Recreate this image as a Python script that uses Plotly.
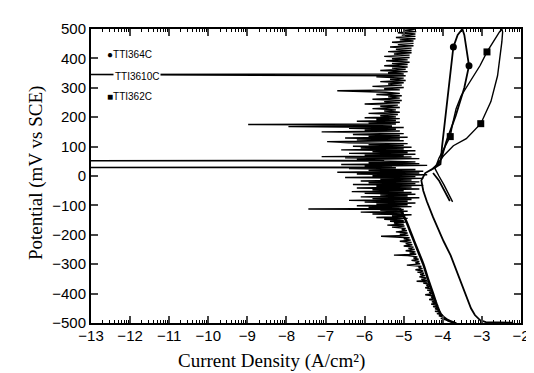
import numpy as np
import plotly.graph_objects as go

# ---------------- data ----------------
# TTI3610C : noisy polarization curve (potential mV, log current density)
noisy_E = [-500,-496,-492,-488,-484,-480,-476,-472,-468,-464,-460,-456,-452,-448,-444,-440,-436,-432,-428,-424,
           -420,-416,-412,-408,-404,-400,-396,-392,-388,-384,-380,-376,-372,-368,-364,-360,-358,-355,-351,-347,
           -343,-339,-335,-331,-327,-323,-319,-315,-311,-307,-303,-299,-295,-291,-287,-283,-279,-275,-271,-269,
           -266,-262,-258,-254,-250,-246,-242,-238,-234,-230,-226,-222,-218,-214,-210,-205,-202,-198,-194,-190,
           -186,-182,-178,-174,-170,-167,-164,-160,-157,-154,-152,
           -150,-147,-144,-141,-138,-135,-132,-129,-126,-123,-120,-117,-114,-112,-110,-107,-104,-101,-98,-95,
           -92,-89,-86,-83,-80,-77,-74,-71,-68,-65,-62,-59,-56,-53,-50,-47,-44,-41,-38,-35,
           -32,-29,-26,-23,-20,-17,-14,-11,-8,-5,-2,1,4,7,10,13,16,19,22,25,
           28,29,30,33,36,39,42,45,48,51,52,53,56,59,62,65,66,68,71,74,
           77,80,83,86,89,92,95,98,101,104,107,110,113,117,120,123,126,129,132,135,
           138,141,144,147,150,153,156,159,162,165,168,170,173,175,177,180,183,186,189,192,
           195,198,201,205,209,213,217,221,225,229,233,237,241,245,249,253,257,261,265,269,
           273,277,281,285,290,293,297,301,305,309,313,317,321,325,329,333,337,341,345,347,
           351,355,359,363,367,371,375,379,383,387,392,395,399,403,407,411,415,419,423,427,
           431,435,439,443,447,451,455,459,463,467,471,475,479,483,487,491,495,500]
noisy_logi = [-3.65,-3.8,-3.88,-3.95,-4.05,-3.98,-4.1,-4.02,-4.15,-4.05,-4.2,-4.08,-4.2,-4.1,-4.25,-4.12,-4.3,-4.15,-4.28,-4.17,
              -4.35,-4.2,-4.3,-4.22,-4.45,-4.25,-4.35,-4.27,-4.4,-4.3,-4.45,-4.32,-4.42,-4.35,-4.5,-4.38,-4.67,-4.4,-4.55,-4.42,
              -4.6,-4.45,-4.58,-4.48,-4.65,-4.5,-4.7,-4.52,-4.62,-4.55,-4.92,-4.58,-4.7,-4.6,-4.8,-4.62,-4.75,-4.65,-4.9,-5.25,
              -4.68,-4.85,-4.7,-4.95,-4.72,-4.88,-4.75,-5.0,-4.78,-4.95,-4.8,-5.1,-4.82,-5.0,-4.85,-5.58,-4.88,-5.1,-4.9,-5.2,
              -4.92,-5.05,-4.95,-5.3,-4.98,-5.42,-5.0,-5.25,-4.95,-5.35,-5.0,
              -5.1,-5.5,-4.9,-5.7,-5.0,-5.3,-4.8,-5.8,-5.0,-6.1,-4.9,-5.6,-5.0,-7.44,-5.1,-5.9,-4.8,-6.2,-4.9,-5.7,
              -4.7,-6.0,-4.9,-6.4,-4.8,-5.8,-4.6,-6.1,-4.9,-5.6,-4.7,-6.0,-4.8,-6.33,-5.0,-5.8,-4.6,-6.2,-4.8,-5.7,
              -4.5,-6.3,-4.7,-5.9,-4.6,-6.1,-4.8,-5.6,-4.5,-6.5,-4.7,-5.8,-4.4,-6.2,-4.6,-6.7,-4.5,-5.9,-4.7,-6.4,
              -5.2,-13.0,-5.3,-6.0,-4.4,-6.6,-4.6,-5.9,-4.7,-5.6,-13.0,-5.5,-6.2,-4.6,-6.5,-4.8,-7.1,-5.0,-6.0,-4.7,
              -6.4,-4.9,-5.8,-4.7,-6.6,-5.0,-6.1,-4.8,-6.3,-5.0,-5.9,-4.9,-6.4,-6.96,-5.0,-6.2,-5.1,-6.5,-4.9,-5.9,
              -5.1,-6.3,-5.0,-5.8,-7.1,-5.1,-6.0,-5.2,-6.4,-5.0,-7.95,-5.3,-6.1,-8.98,-5.2,-5.9,-5.1,-6.2,-5.2,-5.7,
              -5.1,-6.0,-5.2,-5.6,-5.15,-5.9,-5.1,-5.5,-5.2,-5.8,-5.1,-5.6,-5.15,-6.0,-5.1,-5.5,-5.05,-5.8,-5.1,-5.4,
              -5.05,-5.7,-5.1,-5.45,-6.7,-5.1,-5.5,-5.0,-5.8,-5.05,-5.4,-5.0,-5.6,-4.95,-5.35,-5.0,-5.7,-4.95,-13.0,-5.0,
              -5.4,-4.9,-5.6,-4.95,-5.3,-4.9,-5.5,-4.9,-5.3,-4.85,-5.45,-4.9,-5.3,-4.85,-5.5,-4.85,-5.25,-4.8,-5.4,-4.8,
              -5.2,-4.8,-5.35,-4.75,-5.15,-4.75,-5.3,-4.75,-5.1,-4.7,-5.2,-4.7,-5.05,-4.7,-5.15,-4.68,-5.0,-4.7]

# dark core of the noisy cathodic branch
spine_E = [-500,-488,-470,-440,-400,-350,-300,-250,-200,-150,-110]
spine_logi = [-3.7,-3.9,-4.05,-4.15,-4.25,-4.38,-4.5,-4.65,-4.8,-4.95,-5.1]

# TTI364C : circles
c364_E = [-499,-497,-490,-473,-450,-425,-370,-314,-270,-222,-180,-140,-86,-50,-15,10,25,40,100,170,
          229,320,400,439,480,500,480,420,375,300,205,117,49,20,None,-85,-50,-15,10]
c364_logi = [-2.2,-2.9,-3.05,-3.18,-3.28,-3.35,-3.5,-3.66,-3.8,-3.98,-4.12,-4.25,-4.41,-4.5,-4.55,-4.45,-4.25,-4.06,-4.02,-3.96,
             -3.91,-3.84,-3.78,-3.73,-3.62,-3.5,-3.45,-3.38,-3.33,-3.45,-3.67,-3.91,-4.06,-4.3,None,-3.82,-3.95,-4.1,-4.25]
c364_mark_E = [439, 375]
c364_mark_logi = [-3.73, -3.33]

# TTI362C : squares
c362_E = [-88,-60,-30,0,25,60,100,134,171,229,273,320,375,422,456,490,500,490,456,341,253,178,127,103,69,40]
c362_logi = [-3.75,-3.85,-3.97,-4.1,-4.2,-4.1,-3.95,-3.81,-3.76,-3.66,-3.53,-3.3,-3.05,-2.87,-2.72,-2.55,-2.49,-2.47,-2.49,-2.6,
             -2.77,-3.03,-3.4,-3.73,-3.98,-4.15]
c362_mark_E = [422, 178, 134]
c362_mark_logi = [-2.87, -3.03, -3.81]

x_ticks = list(range(-13, -1))
y_ticks = list(range(-500, 501, 100))

# ---------------- figure ----------------
fig = go.Figure()
fig.add_trace(go.Scatter(x=noisy_logi, y=noisy_E, mode="lines",
                         line=dict(color="black", width=1.4), showlegend=False))
fig.add_trace(go.Scatter(x=spine_logi, y=spine_E, mode="lines",
                         line=dict(color="black", width=2.5, shape="spline"), showlegend=False))
fig.add_trace(go.Scatter(x=c364_logi, y=c364_E, mode="lines", connectgaps=False,
                         line=dict(color="black", width=1.8), showlegend=False))
fig.add_trace(go.Scatter(x=c362_logi, y=c362_E, mode="lines",
                         line=dict(color="black", width=1.4), showlegend=False))
fig.add_trace(go.Scatter(x=c364_mark_logi, y=c364_mark_E, mode="markers",
                         marker=dict(symbol="circle", size=7, color="black"), showlegend=False))
fig.add_trace(go.Scatter(x=c362_mark_logi, y=c362_mark_E, mode="markers",
                         marker=dict(symbol="square", size=7, color="black"), showlegend=False))

minor_vals = [d + np.log10(k) for d in range(-13, -2) for k in range(2, 10)]

fig.update_xaxes(range=[-13, -2], tickvals=x_ticks, ticks="inside", ticklen=7, tickwidth=2,
                 showline=True, linewidth=2, linecolor="black", mirror="ticks",
                 showgrid=False, zeroline=False, ticklabelstandoff=-2,
                 tickfont=dict(family="Liberation Sans", size=15, color="black"),
                 minor=dict(tickvals=minor_vals, ticks="inside", ticklen=3, tickwidth=1, tickcolor="black"))
fig.update_yaxes(range=[-500, 500], tickvals=y_ticks, ticks="inside", ticklen=7, tickwidth=2,
                 showline=True, linewidth=2, linecolor="black", mirror="ticks",
                 showgrid=False, zeroline=False,
                 tickfont=dict(family="Liberation Sans", size=15, color="black"))

annotations = [
    dict(text="Current Density (A/cm²)", xref="paper", yref="paper", x=0.42, y=-0.13,
         xanchor="center", yanchor="middle", showarrow=False,
         font=dict(family="Liberation Serif", size=19, color="black")),
    dict(text="Potential (mV vs SCE)", xref="paper", yref="paper", x=-0.128, y=0.51,
         xanchor="center", yanchor="middle", textangle=-90, showarrow=False,
         font=dict(family="Liberation Serif", size=19, color="black")),
    dict(text="●TTI364C", xref="paper", yref="paper", x=0.032, y=(315-46)/295,
         xanchor="left", yanchor="middle", showarrow=False,
         font=dict(family="Liberation Sans", size=10, color="black")),
    dict(text="TTI3610C", xref="paper", yref="paper", x=0.051, y=(315-68)/295,
         xanchor="left", yanchor="middle", showarrow=False, bgcolor="white",
         font=dict(family="Liberation Sans", size=10, color="black")),
    dict(text="■TTI362C", xref="paper", yref="paper", x=0.032, y=(315-88)/295,
         xanchor="left", yanchor="middle", showarrow=False,
         font=dict(family="Liberation Sans", size=10, color="black")),
]

fig.update_layout(width=534, height=373, margin=dict(l=83, r=15, t=20, b=58),
                  paper_bgcolor="white", plot_bgcolor="white",
                  annotations=annotations, showlegend=False)

fig.write_html("out.html")
